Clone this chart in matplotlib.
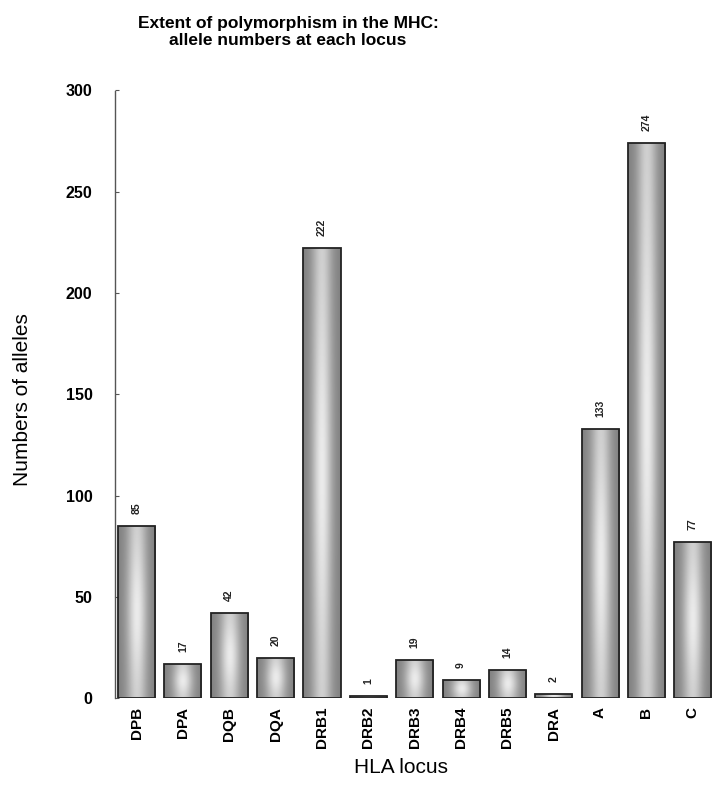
import numpy as np
import matplotlib
matplotlib.use("Agg")
from matplotlib import pyplot as plt
from matplotlib.patches import Rectangle

# data
loci = ["DPB", "DPA", "DQB", "DQA", "DRB1", "DRB2", "DRB3", "DRB4", "DRB5", "DRA", "A", "B", "C"]
alleles = [85, 17, 42, 20, 222, 1, 19, 9, 14, 2, 133, 274, 77]
yticks = [0, 50, 100, 150, 200, 250, 300]

plt.rcParams['font.family'] = ['Liberation Sans', 'DejaVu Sans']

fig = plt.figure(figsize=(7.13, 7.99), dpi=100)
ax = fig.add_axes([0.161, 0.126, 0.838, 0.761])

# shading for the bars: light in the middle, dark at the sides
xs = np.linspace(-1, 1, 60)
ys = np.linspace(-1, 1, 200)
X, Y = np.meshgrid(xs, ys)
shade = 0.5 + 0.42 * np.exp(-(X ** 2) / 0.3) * (0.7 + 0.3 * np.exp(-(Y ** 2) / 0.5))

width = 0.8
bars = ax.bar(range(len(loci)), alleles, width=width, color='none',
              edgecolor='#222222', linewidth=1.3, zorder=3)
for i, (b, v) in enumerate(zip(bars, alleles)):
    x0 = b.get_x()
    im = ax.imshow(shade, cmap='gray', vmin=0, vmax=1, aspect='auto',
                   extent=(x0, x0 + width, 0, v), origin='lower', zorder=2,
                   interpolation='bilinear')
    clip = Rectangle((x0, 0), width, v, transform=ax.transData)
    im.set_clip_path(clip)
    ax.text(i, v + 6, str(v), rotation=90, ha='center', va='bottom',
            fontsize=7.5, fontweight='bold', color='#222222')

ax.set_xlim(-0.47, 12.42)
ax.set_ylim(0, 300)
ax.set_yticks(yticks)
ax.set_yticklabels([str(t) for t in yticks], fontsize=11.5)
for lab in ax.get_yticklabels():
    lab.set_fontweight('bold')
ax.set_xticks(range(len(loci)))
ax.set_xticklabels(loci, rotation=90, fontsize=11, fontweight='bold')
ax.tick_params(axis='x', length=0, pad=6)
ax.tick_params(axis='y', direction='in', length=3, pad=16, color='#555555')

for s in ['top', 'right', 'bottom']:
    ax.spines[s].set_visible(False)
ax.spines['left'].set_linestyle((0, (2, 1)))
ax.spines['left'].set_color('#555555')
ax.spines['left'].set_linewidth(1.0)

fig.text(0.404, 0.98, "Extent of polymorphism in the MHC:\nallele numbers at each locus",
         ha='center', va='top', fontsize=12.5, fontweight='bold', linespacing=1.15)
fig.text(0.031, 0.5, "Numbers of alleles", rotation=90, ha='center', va='center', fontsize=15)
fig.text(0.563, 0.04, "HLA locus", ha='center', va='center', fontsize=15)

fig.savefig("out.png", dpi=100)
